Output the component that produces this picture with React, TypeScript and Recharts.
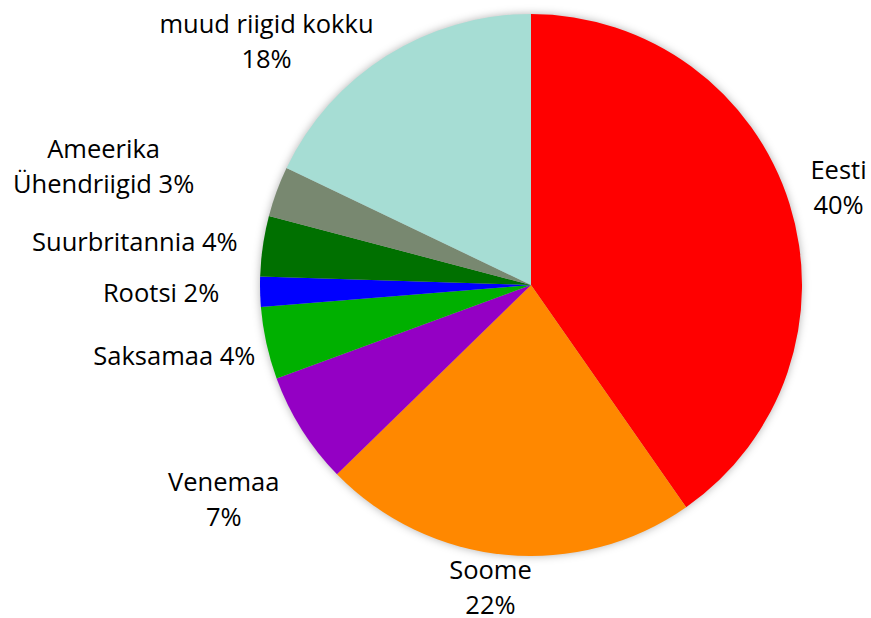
import { PieChart, Pie, Cell } from 'recharts';

const countries = [
  'Eesti',
  'Soome',
  'Venemaa',
  'Saksamaa',
  'Rootsi',
  'Suurbritannia',
  'Ameerika Ühendriigid',
  'muud riigid kokku',
];
const shares = [40.3, 22.4, 6.7, 4.3, 1.8, 3.6, 3.0, 17.9];
const colors = ['#ff0000', '#ff8800', '#9400c4', '#00b000', '#0000ff', '#007000', '#788870', '#a6ddd4'];

const data = countries.map((name, i) => ({ name, value: shares[i] }));

// label nudges from the slice's outer edge (first-line baseline), and where the text breaks
const labelLayout = [
  { dx: 49, dy: -25, lines: 'break' },
  { dx: -15, dy: 24, lines: 'break' },
  { dx: -78, dy: 62, lines: 'break' },
  { dx: -92, dy: 22, lines: 'one' },
  { dx: -99, dy: 10, lines: 'one' },
  { dx: -128, dy: 5, lines: 'one' },
  { dx: -173, dy: -34, lines: 'name' },
  { dx: -120, dy: -23, lines: 'break' },
];

const RAD = Math.PI / 180;
const FONT = '"Open Sans", sans-serif';

function renderLabel(props: any) {
  const { cx, cy, midAngle, outerRadius, index, percent, name } = props;
  const lay = labelLayout[index];
  const ex = cx + outerRadius * Math.cos(-midAngle * RAD);
  const ey = cy + outerRadius * Math.sin(-midAngle * RAD);
  const pct = `${Math.round(percent * 100)}%`;
  let lines: string[];
  if (lay.lines === 'one') lines = [`${name} ${pct}`];
  else if (lay.lines === 'name') {
    const parts = name.split(' ');
    lines = [parts[0], `${parts.slice(1).join(' ')} ${pct}`];
  } else lines = [name, pct];
  const x = ex + lay.dx;
  const y = ey + lay.dy;
  return (
    <text key={`lbl-${index}`} x={x} y={y} textAnchor="middle" fill="#000" fontSize={25.5} fontFamily={FONT}>
      {lines.map((l, i) => (
        <tspan key={i} x={x} dy={i === 0 ? 0 : 35}>{l}</tspan>
      ))}
    </text>
  );
}

export default function App() {
  return (
    <div style={{ position: 'absolute', left: 0, top: 0, width: 871, height: 618, background: '#fff' }}>
      <style>{`.recharts-pie > g:not(.recharts-pie-labels) { filter: drop-shadow(0 0 4px rgba(0,0,0,0.3)); }`}</style>
      <PieChart width={871} height={618} margin={{ top: 0, right: 0, bottom: 0, left: 0 }}>
        <Pie
          data={data}
          dataKey="value"
          nameKey="name"
          cx={531}
          cy={285}
          outerRadius={271}
          startAngle={90}
          endAngle={-270}
          stroke="none"
          label={renderLabel}
          labelLine={false}
          isAnimationActive={false}
        >
          {data.map((d, i) => (
            <Cell key={d.name} fill={colors[i]} />
          ))}
        </Pie>
      </PieChart>
    </div>
  );
}
